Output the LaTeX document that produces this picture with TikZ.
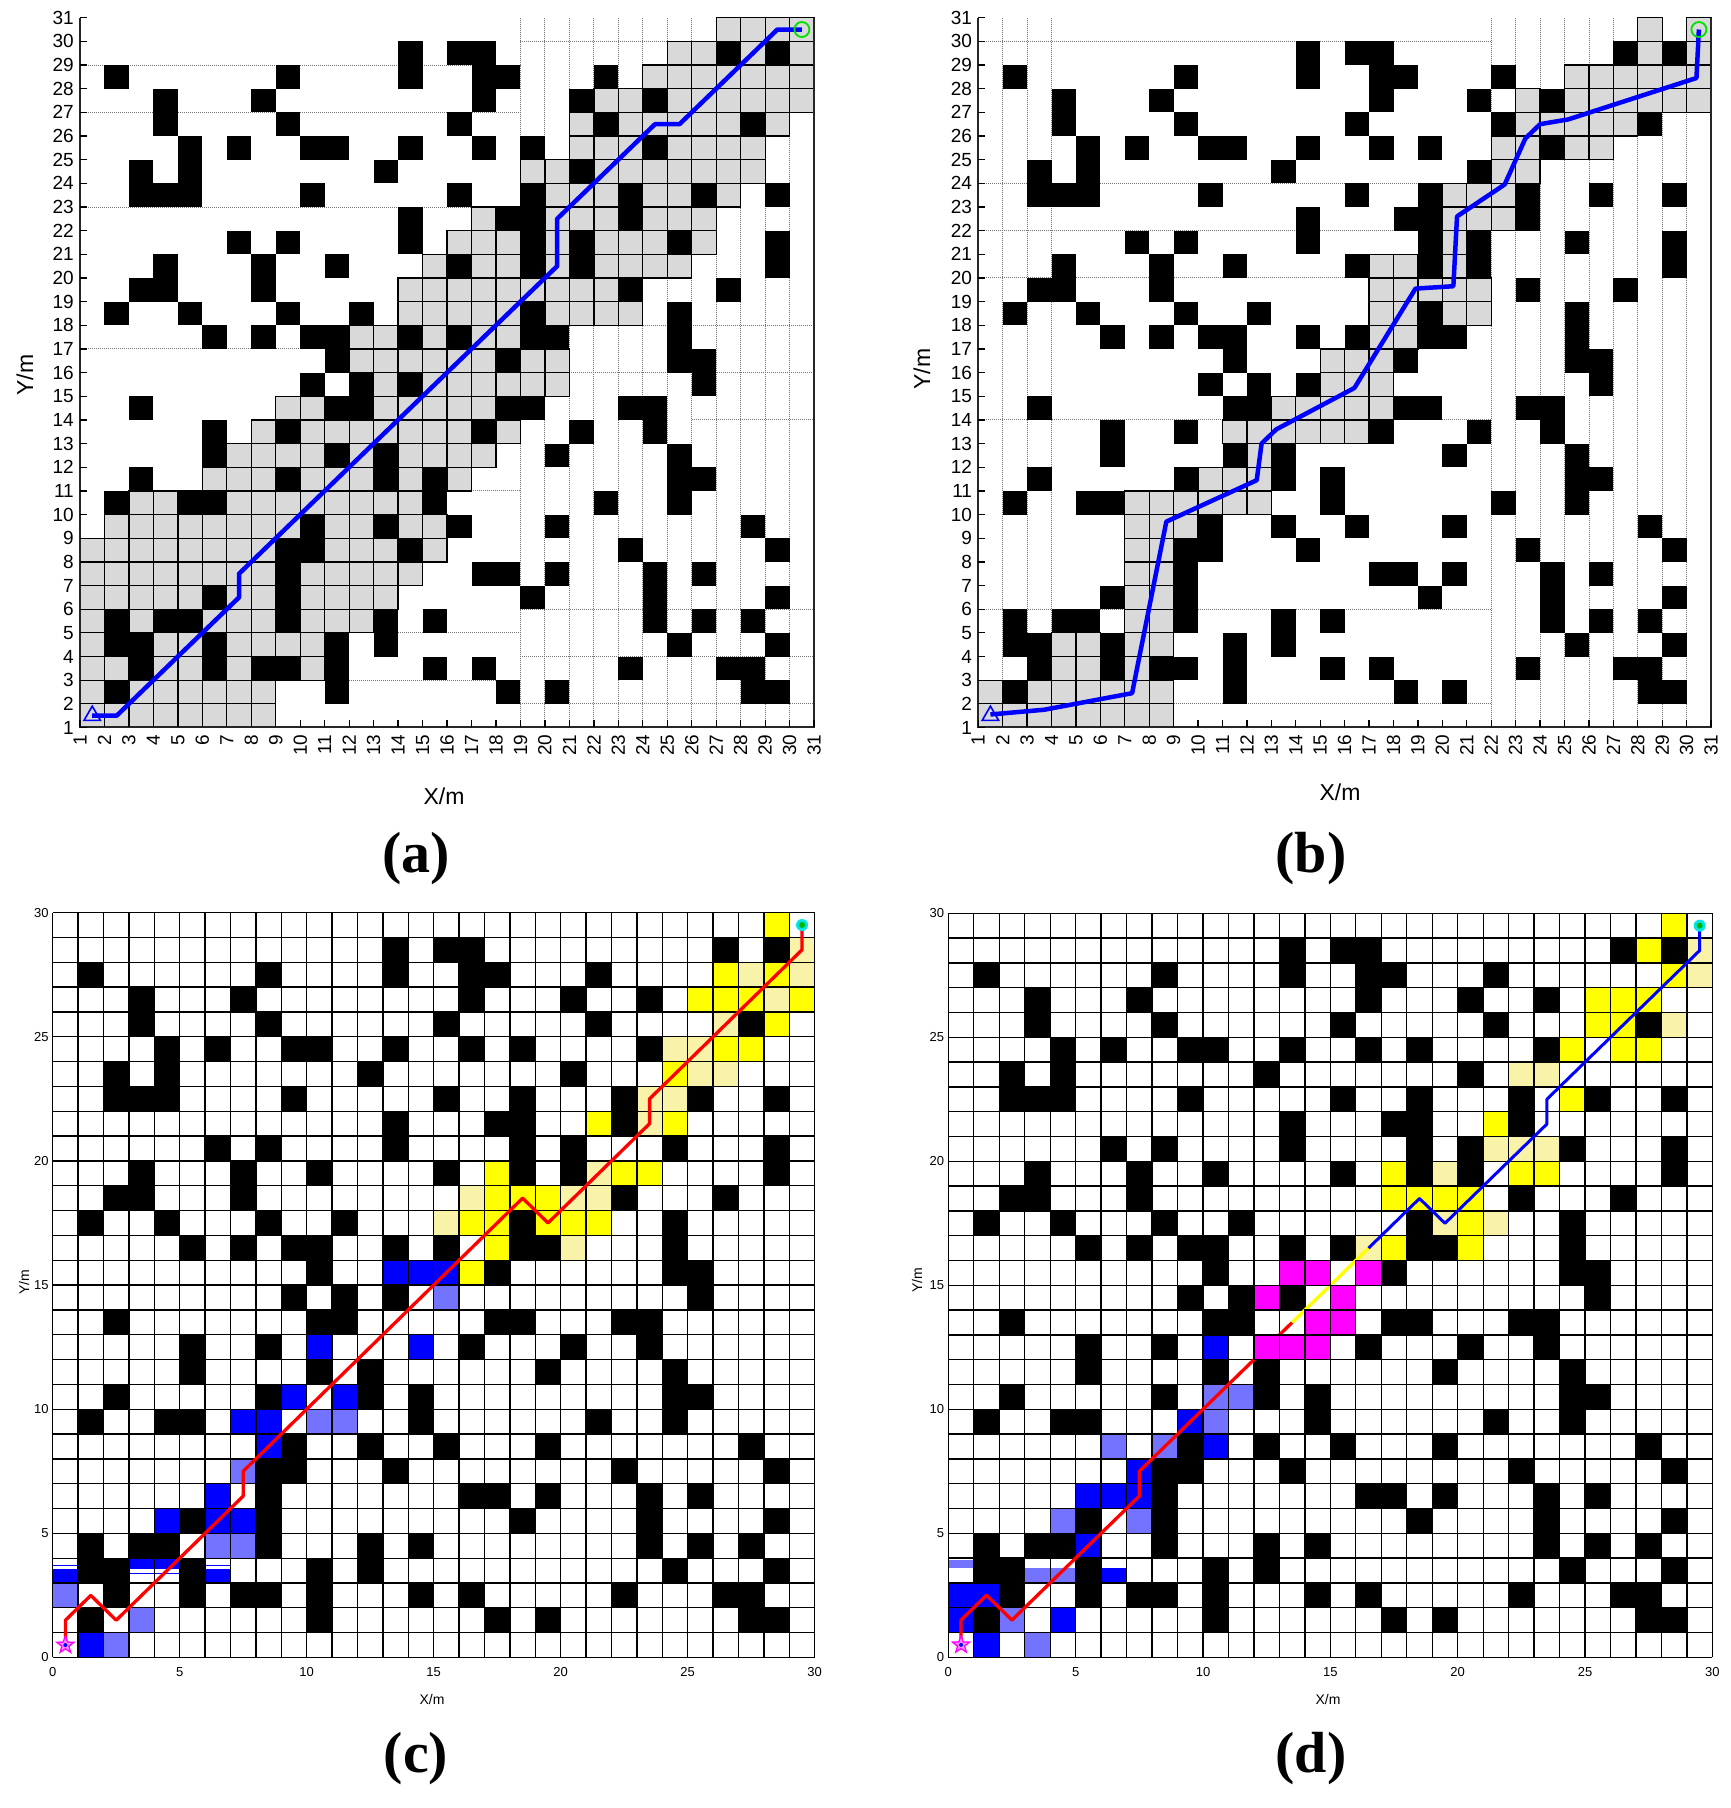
\documentclass[tikz,border=0pt]{standalone}
\usepackage{fontspec}
\setmainfont{Liberation Sans}
\newfontfamily\capfont{Liberation Serif}
\usetikzlibrary{shapes.geometric}
\definecolor{cblue}{RGB}{0,0,255}
\definecolor{cdblue}{RGB}{115,115,255}
\definecolor{cyel}{RGB}{255,255,0}
\definecolor{cdyel}{RGB}{248,243,168}
\definecolor{cmag}{RGB}{255,0,255}
\definecolor{cred}{RGB}{255,0,0}
\definecolor{cgray}{RGB}{217,217,217}
\definecolor{cgreen}{RGB}{0,225,0}
\definecolor{ccyan}{RGB}{0,230,230}
\def\obstdata{28/{13,15,16,26,28},27/{1,8,13,16,17,21},26/{3,7,16,20,23},25/{3,8,15,21,27},24/{4,6,9,10,13,16,18,23},23/{2,4,12,20},22/{2,3,4,9,15,18,22,25,28},21/{13,17,18,22},20/{6,8,13,18,20,24,28},19/{3,7,10,15,18,20,28},18/{2,3,7,22,26},17/{1,4,8,11,18,24},16/{5,7,9,10,13,15,18,19,24},15/{10,17,24,25},14/{9,11,13,25},13/{2,10,11,17,18,22,23},12/{5,8,16,20,23},11/{5,10,12,19,24},10/{2,8,12,14,24,25},9/{1,4,5,14,21,24},8/{9,12,15,19,27},7/{8,9,13,22,28},6/{8,16,17,19,23,25},5/{5,8,18,23,28},4/{1,3,4,8,12,14,23,25,27},3/{1,2,5,10,12,24,28},2/{2,5,7,8,10,14,16,22,26,27},1/{1,10,17,19,27,28}}
\newcommand\drawobst{\foreach \yr/\obstcols in \obstdata {\foreach \xc in \obstcols {\fill[black] (\xc,\yr) rectangle ++(1,1);}}}
\newcommand\cellsfill[2]{\foreach \xc/\yr in {#2} {\fill[#1] (\xc,\yr) rectangle ++(1,1);}}
\newcommand\grayrows[1]{\foreach \yr/\xa/\xb in {#1} {\foreach \xc in {\xa,...,\xb} {\filldraw[gcell] (\xc,\yr) rectangle ++(1,1);}}}
\newcommand\axesAB[1]{%
 \draw[axl] (0,30) -- (0,0) -- (30,0) -- (30,30);
 \foreach \k in {0,...,30} {
   \draw[line width=1.3pt] (0,\k) -- ++(7pt,0pt);
   \draw[line width=1.3pt] (\k,0) -- ++(0pt,7pt);
   \pgfmathtruncatemacro\lab{\k+1}
   \node[tkA, anchor=east, xshift=-5pt] (#1y\k) at (0,\k) {\lab};
   \path (\k,0) ++(0pt,-6pt) node[tkA, rotate=90, anchor=east] (#1x\k) {\lab};
 }}
\newcommand\gridCD{\foreach \k in {0,...,30} {\draw[gridl] (\k,0) -- (\k,30); \draw[gridl] (0,\k) -- (30,\k);}}
\newcommand\ticksCD[1]{\foreach \k in {0,5,...,30} {\node[tkC, anchor=east, xshift=-3pt] (#1y\k) at (0,\k) {\k}; \path (\k,0) ++(0pt,-9pt) node[tkC, anchor=north] (#1x\k) {\k};}}
\newcommand\markAB[1]{\node[regular polygon, regular polygon sides=3, draw=cblue, line width=1.6pt, minimum size=19pt, inner sep=0pt] (#1s) at (0.5,0.5) {};
 \node[circle, draw=cgreen, line width=1.8pt, minimum size=15pt, inner sep=0pt] (#1g) at (29.5,29.5) {};}
\newcommand\markCD[1]{\node[star, star points=5, star point ratio=2.4, draw=cmag, fill=cmag!45, line width=1.3pt, minimum size=18pt, inner sep=0pt] (#1s) at (0.5,0.5) {};
 \fill[cblue] (0.5,0.5) circle (2pt);
 \node[circle, fill=ccyan, minimum size=12pt, inner sep=0pt] (#1g) at (29.5,29.5) {};
 \fill[cgreen!80!black] (29.5,29.5) circle (3pt);}
\tikzset{
 dotl/.style={draw=black!55, line width=0.9pt, dash pattern=on 1pt off 1pt},
 gcell/.style={fill=cgray, draw=black, line width=1.3pt},
 axl/.style={draw=black!85, line width=2pt},
 tkA/.style={font=\fontsize{19}{21}\selectfont, inner sep=1pt},
 tkC/.style={font=\fontsize{13}{15}\selectfont, inner sep=1pt},
 axlabA/.style={font=\fontsize{23}{25}\selectfont},
 axlabC/.style={font=\fontsize{14}{16}\selectfont},
 capt/.style={font=\capfont\bfseries\fontsize{58}{60}\selectfont},
 gridl/.style={draw=black, line width=1.3pt},
 pathAB/.style={draw=cblue, line width=4.5pt, line join=round},
 pathCD/.style={line width=3.3pt, line join=round}
}
\begin{document}
\begin{tikzpicture}[x=1pt,y=1pt]
\useasboundingbox (0,0) rectangle (1731,1808);
\fill[white] (0,0) rectangle (1731,1808);
% ---------------- (a)
\begin{scope}[shift={(80,1080.5)}, x=24.47pt, y=23.66pt]
 \foreach \xc in {18,...,29} {\draw[dotl] (\xc,0) -- (\xc,30);}
 \foreach \yr/\xa/\xb in {29/18/24,28/0/18,26/0/18,22/0/18,17/23/30,16/0/10,15/20/30,13/25/30,10/15/18,5/18/30,4/13/18,3/18/30,2/11/18,1/18/30} {\draw[dotl] (\xa,\yr) -- (\xb,\yr);}
 \grayrows{0/0/7,1/0/7,2/0/9,3/0/9,4/0/11,5/0/12,6/0/13,7/0/14,8/1/14,9/2/13,10/5/15,11/6/16,12/7/17,13/8/16,14/12/12,14/14/19,15/11/19,16/11/17,17/13/22,18/13/21,19/14/24,20/15/25,21/16/25,22/19/26,23/18/27,24/20/27,25/20/28,26/21/29,27/23/29,28/24/29,29/26/29}
 \drawobst
 \axesAB{a}
 \draw[pathAB] (0.5,0.5) -- (1.5,0.5) -- (6.5,5.5) -- (6.5,6.5) -- (19.5,19.5) -- (19.5,21.5) -- (23.5,25.5) -- (24.5,25.5) -- (28.5,29.5) -- (29.5,29.5);
 \markAB{a}
\end{scope}
% ---------------- (b)
\begin{scope}[shift={(978.2,1080.5)}, x=24.43pt, y=23.66pt]
 \foreach \xc in {1,2,3,21,22,...,29} {\draw[dotl] (\xc,0) -- (\xc,30);}
 \foreach \yr/\xa/\xb in {29/0/21,23/0/21,21/0/21,19/0/21,13/0/21,5/0/21,1/8/21} {\draw[dotl] (\xa,\yr) -- (\xb,\yr);}
 \grayrows{0/0/7,1/0/7,2/3/4,2/6/6,3/3/4,3/6/7,4/6/7,5/6/7,6/6/7,7/6/7,8/6/8,9/6/11,10/9/11,11/11/11,12/10/15,13/12/16,14/14/16,15/14/16,16/16/17,17/16/17,17/19/20,18/16/20,19/16/17,19/19/19,20/19/19,21/19/21,22/19/21,23/21/22,24/21/22,24/24/25,25/22/26,26/22/22,26/24/29,27/24/29,28/27/27,28/29/29,29/27/27,29/29/29}
 \drawobst
 \axesAB{b}
 \draw[pathAB] (0.5,0.55) -- (2.7,0.75) -- (6.3,1.45) -- (7.7,8.7) -- (11.4,10.45) -- (11.6,12.0) -- (12.2,12.6) -- (15.4,14.35) -- (17.9,18.55) -- (19.45,18.65) -- (19.6,21.6) -- (21.55,22.95) -- (22.4,24.9) -- (23.0,25.5) -- (24.15,25.7) -- (29.4,27.45) -- (29.5,29.5);
 \markAB{b}
\end{scope}
% ---------------- (c)
\begin{scope}[shift={(52.7,150.5)}, x=25.4pt, y=24.83pt]
 \cellsfill{cblue}{13/15,14/15,15/15,10/12,14/12,9/10,11/10,7/9,8/9,8/8,6/6,4/5,6/5,7/5,1/0}
 \cellsfill{cdblue}{15/14,10/9,11/9,7/7,6/4,7/4,0/2,3/1,2/0}
 \fill[cblue] (0,3) rectangle (1,3.55);
 \fill[cblue] (3,3.55) rectangle (5,4);
 \fill[cblue] (6,3) rectangle (7,3.55);
 \draw[cblue, line width=1pt] (0,3.72) -- (1,3.72);
 \draw[cblue, line width=1pt] (3,3.39) -- (5,3.39);
 \draw[cblue, line width=1pt] (6,3.72) -- (7,3.72);
 \cellsfill{cyel}{28/29,26/27,28/27,25/26,26/26,27/26,29/26,28/25,26/24,27/24,24/23,21/21,24/21,17/19,22/19,23/19,17/18,18/18,19/18,16/17,17/17,19/17,20/17,21/17,17/16,16/15}
 \cellsfill{cdyel}{29/28,27/27,29/27,28/26,26/25,24/24,25/24,25/23,26/23,23/22,24/22,23/21,21/19,16/18,20/18,21/18,15/17,20/16}
 \drawobst
 \gridCD
 \draw[pathCD, cred] (0.5,0.5) -- (0.5,1.5) -- (1.5,2.5) -- (2.5,1.5) -- (7.5,6.5) -- (7.5,7.5) -- (18.5,18.5) -- (19.5,17.5) -- (23.5,21.5) -- (23.5,22.5) -- (29.5,28.5) -- (29.5,29.5);
 \markCD{c}
 \ticksCD{c}
\end{scope}
% ---------------- (d)
\begin{scope}[shift={(948.3,150.7)}, x=25.47pt, y=24.8pt]
 \cellsfill{cblue}{1/0,0/1,4/1,0/2,1/2,5/4,5/6,6/6,7/6,7/7,10/8,9/9,10/12}
 \cellsfill{cdblue}{3/0,2/1,4/5,7/5,6/8,8/8,10/9,10/10,11/10}
 \fill[cdblue] (0,3.6) rectangle (1,3.93);
 \fill[cdblue] (3,3) rectangle (5,3.59);
 \fill[cblue] (6,3) rectangle (7,3.59);
 \cellsfill{cyel}{28/29,27/28,28/27,25/26,26/26,27/26,25/25,26/25,24/24,26/24,27/24,24/22,21/21,17/19,22/19,23/19,17/18,18/18,19/18,20/18,20/17,17/16,20/16}
 \cellsfill{cdyel}{29/28,29/27,28/25,22/23,23/23,21/20,22/20,23/20,19/19,19/17,21/17,16/16}
 \drawobst
 \gridCD
 \draw[pathCD, cred] (0.5,0.5) -- (0.5,1.5) -- (1.5,2.5) -- (2.5,1.5) -- (7.5,6.5) -- (7.5,7.5) -- (13.5,13.5);
 \draw[pathCD, cyel] (13.5,13.5) -- (16.5,16.5);
 \draw[pathCD, cblue, line width=3pt] (16.5,16.5) -- (18.5,18.5) -- (19.5,17.5) -- (23.5,21.5) -- (23.5,22.5) -- (29.5,28.5) -- (29.5,29.5);
 \foreach \xc/\yr in {12/12,13/12,14/12,14/13,15/13,12/14,15/14,13/15,14/15,16/15} {\filldraw[fill=cmag, draw=black, line width=1.3pt] (\xc,\yr) rectangle ++(1,1);}
 \markCD{d}
 \ticksCD{d}
\end{scope}
% ---------------- axis labels and captions
\node[axlabA] (xla) at (444,1012) {X/m};
\node[axlabA, rotate=90] (yla) at (25,1433) {Y/m};
\node[axlabA] (xlb) at (1340,1016) {X/m};
\node[axlabA, rotate=90] (ylb) at (922,1439) {Y/m};
\node[axlabC] (xlc) at (432,109) {X/m};
\node[axlabC, rotate=90] (ylc) at (24,526) {Y/m};
\node[axlabC] (xld) at (1328,109) {X/m};
\node[axlabC, rotate=90] (yld) at (917,528) {Y/m};
\node[capt] (capa) at (416,949) {(a)};
\node[capt] (capb) at (1311,949) {(b)};
\node[capt] (capc) at (416,49) {(c)};
\node[capt] (capd) at (1311,49) {(d)};
\end{tikzpicture}
\end{document}
